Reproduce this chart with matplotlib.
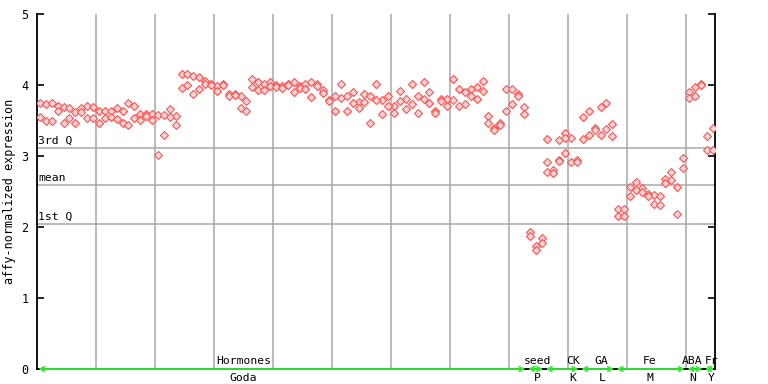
import matplotlib
matplotlib.use("Agg")
import matplotlib.pyplot as plt
from matplotlib.patches import FancyArrowPatch
from matplotlib.transforms import blended_transform_factory
import numpy as np

# ---- data -------------------------------------------------------------
rep_a = [3.75, 3.73, 3.75, 3.71, 3.69, 3.68, 3.62, 3.67, 3.71, 3.69,
         3.63, 3.63, 3.63, 3.67, 3.63, 3.75, 3.70, 3.59, 3.59, 3.59,
         3.58, 3.58, 3.66, 3.57, 4.15, 4.15, 4.12, 4.11, 4.05, 4.02,
         3.98, 4.02, 3.87, 3.88, 3.85, 3.77, 4.08, 4.04, 4.01, 4.04,
         4.00, 3.98, 4.02, 4.04, 3.98, 4.02, 4.04, 4.01, 3.93, 3.79,
         3.84, 4.02, 3.84, 3.90, 3.76, 3.87, 3.85, 4.02, 3.79, 3.85,
         3.71, 3.92, 3.80, 4.02, 3.85, 4.04, 3.90, 3.63, 3.80, 3.80,
         4.08, 3.94, 3.90, 3.94, 3.97, 4.06, 3.56, 3.40, 3.46, 3.94,
         3.95, 3.88, 3.69, 1.93, 1.73, 1.84, 2.91, 2.80, 2.95, 3.33,
         3.25, 2.94, 3.55, 3.64, 3.39, 3.69, 3.74, 3.45, 2.25, 2.25,
         2.57, 2.64, 2.55, 2.47, 2.45, 2.43, 2.67, 2.78, 2.57, 2.97,
         3.90, 3.97, 4.01, 3.28, 3.40]
rep_b = [3.55, 3.49, 3.50, 3.63, 3.47, 3.54, 3.47, 3.62, 3.54, 3.53,
         3.47, 3.53, 3.55, 3.52, 3.47, 3.43, 3.53, 3.51, 3.56, 3.51,
         3.01, 3.30, 3.55, 3.43, 3.96, 4.00, 3.88, 3.94, 4.02, 4.00,
         3.91, 4.00, 3.85, 3.86, 3.67, 3.63, 3.97, 3.93, 3.93, 3.98,
         3.97, 3.96, 4.00, 3.90, 3.96, 3.94, 3.83, 3.98, 3.89, 3.77,
         3.64, 3.81, 3.64, 3.74, 3.67, 3.76, 3.47, 3.79, 3.59, 3.70,
         3.61, 3.77, 3.66, 3.73, 3.60, 3.80, 3.74, 3.61, 3.77, 3.70,
         3.79, 3.70, 3.73, 3.84, 3.80, 3.91, 3.47, 3.36, 3.43, 3.63,
         3.73, 3.84, 3.59, 1.88, 1.67, 1.77, 2.78, 2.76, 2.93, 3.04,
         2.91, 2.91, 3.24, 3.30, 3.36, 3.30, 3.38, 3.28, 2.16, 2.15,
         2.43, 2.52, 2.49, 2.43, 2.33, 2.31, 2.62, 2.66, 2.18, 2.83,
         3.81, 3.85, 4.00, 3.09, 3.09]
extra_pos = [87, 89, 90]
extra_val = [3.24, 3.22, 3.25]

q3_value = 3.11
mean_value = 2.59
q1_value = 2.04

group_names = ["Hormones", "seed", "CK", "GA", "Fe", "ABA", "Fr"]
group_codes = ["Goda", "P", "K", "L", "M", "N", "Y"]
group_start = [1, 84, 87, 93, 99, 111, 114]
group_end = [83, 86, 92, 98, 110, 113, 115]
label_pos = [35.5, 85.3, 91.3, 96.2, 104.3, 111.6, 114.8]

# ---- figure -----------------------------------------------------------
FONT = "DejaVu Sans Mono"
plt.rcParams["font.family"] = FONT

fig = plt.figure(figsize=(7.68, 3.84), dpi=100)
ax = fig.add_axes([37 / 768, 1 - 369 / 384, 678 / 768, 355 / 384])

pos = np.arange(1, len(rep_a) + 1)
red = "#ff5050"
pink = "#ffd6d6"

# grid lines
for gx in np.arange(10.5, 115, 10):
    ax.axvline(gx, color="#a8a8a8", lw=1.1, zorder=1)
for qv in (q3_value, mean_value, q1_value):
    ax.axhline(qv, color="#a8a8a8", lw=1.1, zorder=1)

mk = dict(marker="D", ms=3.8, mfc=pink, mec=red, mew=0.8, ls="none", zorder=3)
ax.plot(pos, rep_a, **mk)
ax.plot(pos, rep_b, **mk)
ax.plot(extra_pos, extra_val, **mk)

ax.set_xlim(0.5, 115.4)
ax.set_ylim(0, 5)
ax.set_yticks([0, 1, 2, 3, 4, 5])
ax.set_yticklabels(["0", "1", "2", "3", "4", "5"])
ax.set_xticks([])
ax.tick_params(axis="y", direction="in", length=5, width=1.2, pad=6,
               labelsize=8.5, right=True, left=True, labelright=False)
ax.spines["top"].set_visible(False)
for s in ("left", "right", "bottom"):
    ax.spines[s].set_linewidth(1.3)
ax.set_ylabel("affy-normalized expression", fontsize=8.5, labelpad=4)

tl = blended_transform_factory(ax.transAxes, ax.transData)
ax.text(0.002, q3_value + 0.03, "3rd Q", transform=tl, fontsize=8.2,
        va="bottom", ha="left")
ax.text(0.002, mean_value + 0.03, "mean", transform=tl, fontsize=8.2,
        va="bottom", ha="left")
ax.text(0.002, q1_value + 0.03, "1st Q", transform=tl, fontsize=8.2,
        va="bottom", ha="left")

# group arrows and labels
tb = blended_transform_factory(ax.transData, ax.transAxes)
for name, code, s, e, lp in zip(group_names, group_codes, group_start,
                                group_end, label_pos):
    arr = FancyArrowPatch((s - 0.5, 0), (e + 0.5, 0),
                          arrowstyle="<->,head_length=3,head_width=1.6",
                          color="#33ee33", lw=1.3, shrinkA=1, shrinkB=1,
                          clip_on=False, zorder=5)
    ax.add_patch(arr)
    ax.text(lp, 0.008, name, transform=tb, ha="center", va="bottom",
            fontsize=8.2, clip_on=False)
    ax.text(lp, -0.012, code, transform=tb, ha="center", va="top",
            fontsize=8.2, clip_on=False)

fig.savefig("out.png", dpi=100)
